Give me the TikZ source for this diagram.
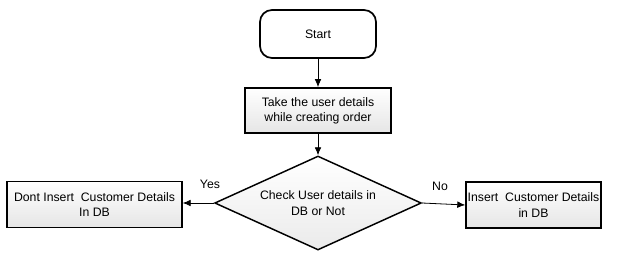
\documentclass[tikz,border=0pt]{standalone}
\usepackage{fontspec}
\setmainfont{Liberation Sans}
\usetikzlibrary{arrows.meta,shapes.geometric}
\begin{document}
\begin{tikzpicture}[x=0.75pt,y=-0.75pt,
  every node/.style={font=\fontsize{9.2}{11.5}\selectfont},
  startbox/.style={draw,line width=1.3pt,rounded corners=9pt,fill=white,minimum width=87pt,minimum height=36pt},
  procbox/.style={draw,line width=1.3pt,top color=white,bottom color=black!10,align=center,inner sep=0pt},
  decbox/.style={draw,line width=1.1pt,diamond,aspect=2.2,top color=white,bottom color=black!8,align=center,inner sep=0pt,minimum width=155pt,minimum height=70.5pt},
  conn/.style={draw,line width=0.6pt,-{Latex[length=6pt,width=5pt]}},
  lbl/.style={font=\fontsize{9.2}{11.5}\selectfont}
]
\useasboundingbox (0,0) rectangle (620,260);
\node[startbox] (start) at (318,34) {Start};
\node[procbox,minimum width=109.5pt,minimum height=33.75pt] (take) at (318,110.5) {Take the user details\\ while creating order};
\node[decbox] (check) at (318,203) {Check User details in\\DB or Not};
\node[procbox,minimum width=131pt,minimum height=34.5pt] (dont) at (94.5,204.5) {Dont Insert\ \ Customer Details\\In DB};
\node[procbox,minimum width=101pt,minimum height=34.5pt] (ins) at (533.5,205) {Insert\ \ Customer Details\\in DB};
\draw[conn] (start) -- (take);
\draw[conn] (take) -- (check);
\draw[conn] (check.west) -- (dont.east |- check.west);
\draw[conn] (check.east) -- (ins.west);
\node[lbl] (yes) at (210,184) {Yes};
\node[lbl] (no) at (440,186) {No};
\end{tikzpicture}
\end{document}
